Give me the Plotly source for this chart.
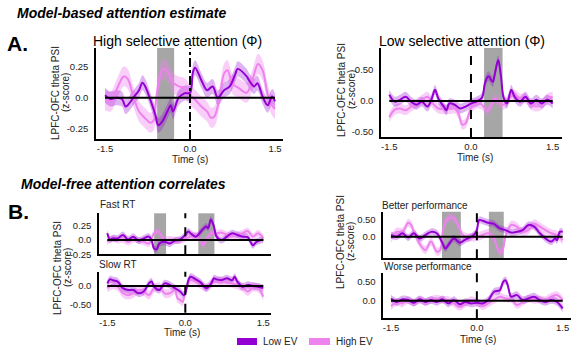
import plotly.graph_objects as go

W, H = 571, 350
FONT = "Liberation Sans, Arial, Helvetica, sans-serif"
LOW_COLOR = "#9400D3"
HIGH_COLOR = "#EE82EE"
LOW_FILL = "rgba(148,0,211,0.30)"
HIGH_FILL = "rgba(238,130,238,0.38)"

# ---------------- data ----------------
# A-left: High selective attention
al_low_t = [-1.5, -1.4, -1.3, -1.2, -1.14, -1.1, -1.0, -0.9, -0.84, -0.79, -0.69, -0.61, -0.56, -0.49, -0.39, -0.34, -0.3, -0.2, -0.1, 0.0, 0.05, 0.09, 0.2, 0.3, 0.4, 0.49, 0.6, 0.7, 0.8, 0.84, 1.0, 1.04, 1.13, 1.19, 1.28, 1.37, 1.45, 1.5]
al_low_v = [0.02, -0.01, 0.0, -0.01, -0.07, -0.06, 0.0, 0.06, 0.12, 0.09, -0.03, -0.14, -0.22, -0.19, -0.10, -0.06, -0.11, 0.0, 0.035, 0.04, 0.2, 0.24, 0.14, 0.06, 0.09, 0.0, 0.06, 0.09, 0.19, 0.23, 0.17, 0.14, 0.09, 0.115, 0.01, -0.06, 0.01, -0.03]
al_high_t = [-1.5, -1.4, -1.3, -1.17, -1.1, -1.0, -0.9, -0.8, -0.7, -0.64, -0.6, -0.52, -0.47, -0.4, -0.3, -0.2, -0.1, 0.0, 0.1, 0.2, 0.3, 0.37, 0.43, 0.52, 0.6, 0.66, 0.75, 0.85, 1.0, 1.1, 1.2, 1.28, 1.38, 1.46, 1.5]
al_high_v = [-0.02, -0.03, 0.06, 0.17, 0.15, 0.01, -0.11, -0.16, -0.2, -0.18, -0.02, 0.19, 0.23, 0.21, 0.12, 0.09, 0.08, 0.02, -0.02, -0.07, -0.11, -0.16, -0.15, 0.0, 0.19, 0.22, 0.11, 0.08, 0.04, 0.14, 0.27, 0.22, 0.01, -0.07, -0.09]
al_low_sem, al_high_sem = 0.06, 0.08
al_shade = [(-0.58, -0.28)]

# A-right: Low selective attention
ar_low_t = [-1.5, -1.4, -1.3, -1.2, -1.1, -1.0, -0.9, -0.8, -0.72, -0.66, -0.6, -0.5, -0.45, -0.4, -0.3, -0.2, -0.1, 0.0, 0.1, 0.2, 0.26, 0.32, 0.4, 0.44, 0.5, 0.55, 0.6, 0.66, 0.74, 0.8, 0.9, 1.0, 1.1, 1.2, 1.3, 1.4, 1.5]
ar_low_v = [0.1, -0.01, 0.02, 0.07, -0.01, -0.06, -0.01, -0.09, 0.04, 0.18, 0.04, -0.09, -0.15, -0.04, -0.06, -0.12, -0.09, -0.04, -0.01, 0.05, 0.3, 0.4, 0.31, 0.45, 0.66, 0.4, 0.05, -0.04, 0.18, 0.07, -0.01, 0.07, -0.04, 0.02, -0.04, 0.02, -0.04]
ar_high_t = [-1.5, -1.4, -1.3, -1.2, -1.1, -1.0, -0.9, -0.8, -0.7, -0.6, -0.5, -0.4, -0.3, -0.23, -0.16, -0.1, 0.0, 0.1, 0.2, 0.3, 0.4, 0.44, 0.5, 0.6, 0.7, 0.8, 0.9, 1.0, 1.1, 1.2, 1.3, 1.4, 1.5]
ar_high_v = [-0.26, -0.14, -0.12, -0.15, -0.09, -0.04, 0.02, 0.07, -0.04, -0.12, -0.13, -0.13, -0.12, -0.2, -0.38, -0.36, -0.12, -0.04, -0.06, -0.16, -0.01, 0.04, -0.01, -0.06, 0.04, 0.1, 0.04, 0.04, -0.06, -0.09, -0.06, 0.04, 0.07]
ar_low_sem, ar_high_sem = 0.08, 0.08
ar_shade = [(0.24, 0.58)]

# B-left top: Fast RT
fa_low_t = [-1.5, -1.45, -1.4, -1.3, -1.2, -1.1, -1.0, -0.9, -0.8, -0.7, -0.65, -0.6, -0.55, -0.5, -0.4, -0.3, -0.2, -0.1, 0.0, 0.06, 0.1, 0.2, 0.3, 0.4, 0.44, 0.49, 0.55, 0.6, 0.7, 0.8, 0.9, 1.0, 1.1, 1.2, 1.3, 1.37, 1.5]
fa_low_v = [0.12, 0.01, 0.03, 0.03, 0.09, 0.01, 0.06, -0.01, 0.03, 0.06, 0.0, -0.15, -0.16, -0.06, -0.03, -0.06, -0.01, 0.01, 0.09, 0.15, 0.12, 0.06, 0.15, 0.24, 0.21, 0.36, 0.24, 0.06, 0.0, 0.06, 0.12, 0.09, 0.06, 0.05, -0.09, -0.03, 0.01]
fa_high_t = [-1.5, -1.4, -1.3, -1.2, -1.1, -1.0, -0.9, -0.8, -0.7, -0.6, -0.52, -0.45, -0.4, -0.3, -0.2, -0.1, 0.0, 0.1, 0.2, 0.3, 0.35, 0.4, 0.5, 0.6, 0.7, 0.8, 0.9, 1.0, 1.1, 1.2, 1.3, 1.4, 1.5]
fa_high_v = [-0.03, 0.03, 0.0, 0.01, -0.03, 0.01, 0.0, -0.03, -0.06, 0.12, 0.15, 0.06, 0.0, 0.01, 0.0, -0.01, 0.03, 0.06, 0.09, -0.03, -0.09, 0.0, 0.12, 0.12, 0.13, 0.09, 0.06, 0.09, 0.12, 0.16, 0.06, 0.12, 0.03]
fa_low_sem, fa_high_sem = 0.06, 0.06
fa_shade = [(-0.6, -0.37), (0.25, 0.56)]

# B-left bottom: Slow RT
sl_low_t = [-1.5, -1.45, -1.4, -1.3, -1.2, -1.1, -1.0, -0.9, -0.8, -0.7, -0.65, -0.6, -0.5, -0.4, -0.3, -0.2, -0.1, -0.02, 0.06, 0.1, 0.2, 0.3, 0.4, 0.5, 0.55, 0.6, 0.7, 0.8, 0.9, 0.95, 1.0, 1.1, 1.2, 1.3, 1.4, 1.5]
sl_low_v = [0.07, 0.18, 0.16, 0.12, -0.06, -0.11, -0.11, -0.2, -0.15, 0.07, 0.12, -0.02, -0.11, 0.07, 0.03, -0.06, -0.15, -0.25, 0.16, 0.25, 0.18, 0.09, -0.06, 0.07, 0.21, 0.18, 0.16, 0.21, 0.16, 0.25, 0.12, -0.02, 0.03, 0.0, -0.02, -0.06]
sl_high_t = [-1.5, -1.4, -1.3, -1.2, -1.1, -1.0, -0.9, -0.8, -0.7, -0.6, -0.5, -0.4, -0.3, -0.2, -0.15, -0.1, -0.05, 0.0, 0.1, 0.2, 0.3, 0.4, 0.5, 0.6, 0.7, 0.8, 0.9, 1.0, 1.1, 1.2, 1.3, 1.4, 1.5]
sl_high_v = [-0.06, 0.03, -0.02, -0.2, -0.25, -0.2, -0.11, -0.15, -0.25, -0.06, -0.02, -0.2, -0.2, -0.11, -0.34, -0.38, -0.43, -0.11, 0.16, 0.12, 0.03, -0.04, 0.07, 0.12, 0.12, 0.09, 0.07, 0.03, -0.04, -0.15, -0.04, -0.06, -0.29]
sl_low_sem, sl_high_sem = 0.1, 0.12
sl_shade = []

# B-right top: Better performance
be_low_t = [-1.5, -1.4, -1.3, -1.2, -1.1, -1.0, -0.9, -0.8, -0.7, -0.64, -0.6, -0.55, -0.5, -0.4, -0.3, -0.2, -0.1, -0.03, 0.0, 0.04, 0.1, 0.2, 0.3, 0.4, 0.5, 0.6, 0.7, 0.8, 0.9, 1.0, 1.1, 1.2, 1.3, 1.37, 1.4, 1.45, 1.5]
be_low_v = [0.05, 0.0, 0.1, -0.02, 0.1, -0.05, 0.05, 0.14, 0.1, -0.05, -0.19, -0.34, -0.24, -0.05, -0.17, -0.08, 0.0, 0.1, 0.19, 0.48, 0.46, 0.4, 0.37, 0.24, 0.19, 0.12, 0.14, 0.19, 0.34, 0.29, 0.1, -0.05, -0.14, -0.05, -0.1, 0.14, 0.14]
be_high_t = [-1.5, -1.4, -1.3, -1.2, -1.15, -1.1, -1.0, -0.9, -0.8, -0.7, -0.64, -0.6, -0.55, -0.5, -0.4, -0.33, -0.25, -0.2, -0.1, 0.0, 0.1, 0.2, 0.3, 0.35, 0.4, 0.45, 0.5, 0.6, 0.7, 0.8, 0.9, 1.0, 1.1, 1.2, 1.3, 1.4, 1.5]
be_high_v = [-0.05, 0.14, 0.14, 0.4, 0.34, 0.14, -0.2, -0.38, -0.14, -0.43, -0.38, 0.1, 0.43, 0.53, 0.53, 0.34, 0.05, 0.0, -0.02, 0.0, 0.05, 0.1, -0.05, -0.29, -0.45, -0.38, 0.0, 0.34, 0.29, 0.14, 0.19, 0.38, 0.29, 0.19, 0.1, 0.05, -0.1]
be_low_sem, be_high_sem = 0.1, 0.12
be_shade = [(-0.61, -0.28), (0.21, 0.47)]

# B-right bottom: Worse performance
wo_low_t = [-1.5, -1.4, -1.3, -1.2, -1.1, -1.0, -0.9, -0.8, -0.7, -0.6, -0.5, -0.4, -0.3, -0.2, -0.1, 0.0, 0.1, 0.2, 0.3, 0.4, 0.46, 0.5, 0.54, 0.6, 0.7, 0.8, 0.9, 1.0, 1.1, 1.2, 1.3, 1.4, 1.5]
wo_low_v = [0.06, -0.03, 0.04, 0.02, -0.05, 0.04, -0.03, 0.02, -0.03, 0.04, -0.07, 0.02, -0.09, -0.03, -0.07, -0.05, -0.07, 0.02, 0.24, 0.28, 0.5, 0.54, 0.41, 0.11, 0.15, 0.02, 0.06, 0.11, 0.02, -0.03, 0.02, -0.03, -0.2]
wo_high_t = [-1.5, -1.4, -1.3, -1.2, -1.1, -1.0, -0.9, -0.8, -0.7, -0.6, -0.5, -0.4, -0.3, -0.2, -0.1, 0.0, 0.1, 0.2, 0.3, 0.4, 0.5, 0.6, 0.7, 0.8, 0.9, 1.0, 1.1, 1.2, 1.3, 1.4, 1.5]
wo_high_v = [-0.14, -0.03, -0.07, 0.02, -0.05, 0.02, -0.03, 0.02, 0.06, 0.02, 0.02, -0.07, -0.16, -0.07, 0.02, -0.03, -0.14, -0.07, 0.02, 0.11, 0.06, 0.04, -0.11, -0.03, 0.06, 0.02, 0.04, 0.02, 0.11, 0.15, 0.02]
wo_low_sem, wo_high_sem = 0.1, 0.1
wo_shade = []

x_tick_vals = [-1.5, 0.0, 1.5]
x_tick_text = ["-1.5", "0.0", "1.5"]

# ---------------- layout geometry (pixels) ----------------
def px(x):
    return x / W

def py(y):
    return 1 - y / H

panels = [
    dict(d=(al_low_t, al_low_v, al_low_sem, al_high_t, al_high_v, al_high_sem, al_shade),
         xd=(96, 283), yd=(48, 139), xr=(-1.659, 1.641), yr=(-0.33, 0.397),
         yt=[-0.25, 0.0, 0.25], ytt=["-0.25", "0.0", "0.25"], xl=True, dash="dashdot"),
    dict(d=(ar_low_t, ar_low_v, ar_low_sem, ar_high_t, ar_high_v, ar_high_sem, ar_shade),
         xd=(381, 562), yd=(48, 137), xr=(-1.652, 1.671), yr=(-0.58, 0.855),
         yt=[-0.5, 0.0, 0.5], ytt=["-0.50", "0.0", "0.50"], xl=True, dash="dash"),
    dict(d=(fa_low_t, fa_low_v, fa_low_sem, fa_high_t, fa_high_v, fa_high_sem, fa_shade),
         xd=(99, 271), yd=(213.3, 254.3), xr=(-1.66, 1.648), yr=(-0.25, 0.47),
         yt=[-0.25, 0.0, 0.25], ytt=["-0.25", "0.0", "0.25"], xl=False, dash="dash"),
    dict(d=(sl_low_t, sl_low_v, sl_low_sem, sl_high_t, sl_high_v, sl_high_sem, sl_shade),
         xd=(99, 271), yd=(271.7, 312.7), xr=(-1.66, 1.648), yr=(-0.73, 0.39),
         yt=[-0.5, 0.0], ytt=["-0.50", "0.0"], xl=True, dash="dash"),
    dict(d=(be_low_t, be_low_v, be_low_sem, be_high_t, be_high_v, be_high_sem, be_shade),
         xd=(383.3, 567), yd=(211.7, 258.3), xr=(-1.635, 1.575), yr=(-0.62, 0.72),
         yt=[0.0, 0.5], ytt=["0.0", "0.50"], xl=False, dash="dash"),
    dict(d=(wo_low_t, wo_low_v, wo_low_sem, wo_high_t, wo_high_v, wo_high_sem, wo_shade),
         xd=(383.3, 571), yd=(272.7, 318.3), xr=(-1.635, 1.645), yr=(-0.46, 0.74),
         yt=[0.0, 0.5], ytt=["0.0", "0.50"], xl=True, dash="dash"),
]

fig = go.Figure()
layout = dict(width=W, height=H, autosize=False,
              margin=dict(l=0, r=0, t=0, b=0, pad=0, autoexpand=False),
              paper_bgcolor="white", plot_bgcolor="white", showlegend=False,
              font=dict(family=FONT, color="#222", size=10))
shapes = []
annotations = []


def band(t, v, sem, fill, xa, ya):
    lower = [a - sem for a in v]
    upper = [a + sem for a in v]
    fig.add_trace(go.Scatter(x=t, y=lower, mode="lines", line=dict(width=0, shape="spline", color=fill),
                             xaxis=xa, yaxis=ya, hoverinfo="skip", showlegend=False))
    fig.add_trace(go.Scatter(x=t, y=upper, mode="lines", line=dict(width=0, shape="spline", color=fill),
                             fill="tonexty", fillcolor=fill, xaxis=xa, yaxis=ya, hoverinfo="skip",
                             showlegend=False))


for i, p in enumerate(panels):
    n = "" if i == 0 else str(i + 1)
    xa, ya = "x" + n, "y" + n
    lt, lv, ls, ht, hv, hs, shade = p["d"]
    layout["xaxis" + n] = dict(domain=[px(p["xd"][0]), px(p["xd"][1])], range=list(p["xr"]), anchor=ya,
                               automargin=False,
                               showgrid=False, zeroline=False, showline=True, linecolor="black", linewidth=1.5,
                               tickvals=x_tick_vals, ticktext=x_tick_text, showticklabels=p["xl"],
                               ticks="", ticklabelstandoff=0, tickfont=dict(size=9.5, color="#222"), fixedrange=True)
    layout["yaxis" + n] = dict(domain=[py(p["yd"][1]), py(p["yd"][0])], range=list(p["yr"]), anchor=xa,
                               automargin=False,
                               showgrid=False, zeroline=False, showline=True, linecolor="black", linewidth=1.5,
                               tickvals=p["yt"], ticktext=p["ytt"], ticks="", ticklabelstandoff=4,
                               tickfont=dict(size=9.5, color="#222"), fixedrange=True)
    for (s0, s1) in shade:
        shapes.append(dict(type="rect", xref=xa, yref=ya + " domain", x0=s0, x1=s1, y0=0, y1=1,
                           fillcolor="#a6a6a6", line=dict(width=0), layer="below"))
    band(ht, hv, hs, HIGH_FILL, xa, ya)
    band(lt, lv, ls, LOW_FILL, xa, ya)
    fig.add_trace(go.Scatter(x=ht, y=hv, mode="lines", line=dict(color=HIGH_COLOR, width=2, shape="spline"),
                             xaxis=xa, yaxis=ya, hoverinfo="skip", showlegend=False))
    fig.add_trace(go.Scatter(x=lt, y=lv, mode="lines", line=dict(color=LOW_COLOR, width=2, shape="spline"),
                             xaxis=xa, yaxis=ya, hoverinfo="skip", showlegend=False))
    shapes.append(dict(type="line", xref=xa, yref=ya, x0=x_tick_vals[0], x1=x_tick_vals[-1], y0=0, y1=0,
                       line=dict(color="black", width=2), layer="above"))
    shapes.append(dict(type="line", xref=xa, yref=ya + " domain", x0=0, x1=0, y0=0, y1=1,
                       line=dict(color="black", width=2, dash=p["dash"]), layer="above"))


def text(s, x, y, size=10, xanchor="left", angle=0, color="#222"):
    annotations.append(dict(text=s, x=px(x), y=py(y), xref="paper", yref="paper", showarrow=False,
                            xanchor=xanchor, yanchor="middle", textangle=angle,
                            font=dict(family=FONT, size=size, color=color)))


text("<b><i>Model-based attention estimate</i></b>", 15, 13, size=14, color="black")
text("<b>A.</b>", 5, 43, size=21, color="black")
text("High selective attention (Φ)", 177, 41, size=14, xanchor="center", color="black")
text("Low selective attention (Φ)", 462, 41, size=14, xanchor="center", color="black")
text("<b><i>Model-free attention correlates</i></b>", 19, 184, size=14, color="black")
text("<b>B.</b>", 6, 211, size=21, color="black")
text("Fast RT", 98, 204)
text("Slow RT", 97, 264)
text("Better performance", 380, 206)
text("Worse performance", 382, 266)
text("Time (s)", 190, 159.5, xanchor="center")
text("Time (s)", 475, 157, xanchor="center")
text("Time (s)", 182, 332.5, xanchor="center")
text("Time (s)", 478, 339, xanchor="center")
for (x1, x2, yc) in [(55, 65, 93), (342, 352, 90), (57, 67, 268), (340, 350, 242)]:
    text("LPFC-OFC theta PSI", x1, yc, xanchor="center", angle=-90)
    text("(z-score)", x2, yc, xanchor="center", angle=-90)

# legend
shapes.append(dict(type="rect", xref="paper", yref="paper", x0=px(237), x1=px(257), y0=py(345), y1=py(338),
                   fillcolor=LOW_COLOR, line=dict(width=0)))
shapes.append(dict(type="rect", xref="paper", yref="paper", x0=px(309), x1=px(330), y0=py(345), y1=py(338),
                   fillcolor=HIGH_COLOR, line=dict(width=0)))
text("Low EV", 261, 341)
text("High EV", 334, 341)

layout["shapes"] = shapes
layout["annotations"] = annotations
fig.update_layout(**layout)
fig.write_html("out.html", config={"displayModeBar": False},
               post_script="document.body.style.margin='0';document.body.style.padding='0';document.body.style.overflow='hidden';")
